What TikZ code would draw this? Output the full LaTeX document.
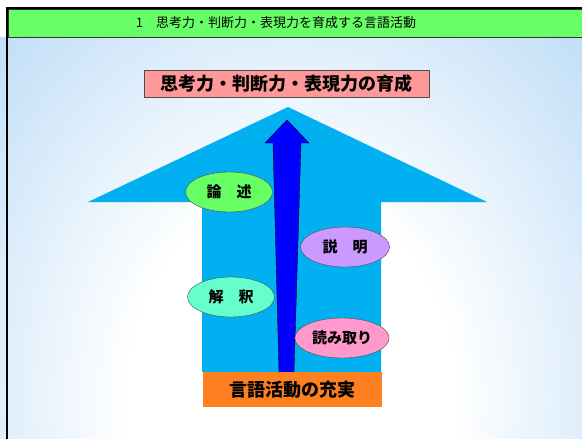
\documentclass[tikz,border=0pt]{standalone}
\usepackage{fontspec}
\newfontfamily\jp{Noto Sans CJK JP}
\usepackage{xcolor}
\usetikzlibrary{shapes,positioning}
\definecolor{hdrgreen}{RGB}{102,255,102}
\definecolor{bgblue}{RGB}{162,206,243}
\definecolor{bigcyan}{RGB}{0,176,240}
\definecolor{goalpink}{RGB}{255,153,153}
\definecolor{baseorange}{RGB}{255,128,32}
\definecolor{ronGreen}{RGB}{102,255,102}
\definecolor{setPurple}{RGB}{204,153,255}
\definecolor{kaiAqua}{RGB}{102,255,204}
\definecolor{yomiPink}{RGB}{255,153,204}
\pgfdeclareradialshading{bgshade}{\pgfpoint{0bp}{0bp}}{color(0bp)=(white); color(14bp)=(white); color(46bp)=(bgblue); color(100bp)=(bgblue)}

\begin{document}
\begin{tikzpicture}[x=1pt, y=-1pt,
    ellip/.style={ellipse, draw=black!70, minimum width=87pt, minimum height=40pt,
      font=\jp\bfseries\fontsize{15}{15}\selectfont},
    boxtext/.style={font=\jp\bfseries\fontsize{18}{18}\selectfont}]
    \useasboundingbox (0,0) rectangle (582,439);
    \clip (0,0) rectangle (582,439);

    % Background
    \fill[white] (0,0) rectangle (582,439);
    \shade[shading=bgshade] (0,37) rectangle (582,760);
    \draw[line width=2pt] (7,470) |- (600,8);

    % Header
    \draw[fill=hdrgreen, draw=black!80] (8,9) rectangle (600,37);
    \node (H) at (276,23) {\jp\fontsize{13}{13}\selectfont 1\quad 思考力・判断力・表現力を育成する言語活動};

    % Big arrow
    \fill[bigcyan] (288,107) -- (487,202) -- (381,202) -- (381,372)
      -- (202,372) -- (202,202) -- (88,202) -- cycle;

    % Blue arrow
    \draw[fill=blue, draw=black] (287,120) -- (309,143) -- (301,143) -- (294,372)
      -- (279,372) -- (273,143) -- (265,143) -- cycle;

    % Goal and base
    \node[boxtext, draw=black!70, fill=goalpink, minimum width=285pt, minimum height=27pt,
      inner sep=0pt] (G) at (286.5,83.5) {思考力・判断力・表現力の育成};
    \node[boxtext, fill=baseorange, minimum width=179pt, minimum height=35pt,
      inner sep=0pt] (B) at (292.5,389.5) {言語活動の充実};

    % Activities
    \node[ellip, fill=ronGreen] (Ron) at (229,192) {論　述};
    \node[ellip, fill=setPurple, minimum width=89pt] (Set) at (345,247) {説　明};
    \node[ellip, fill=kaiAqua] (Kai) at (231,297) {解　釈};
    \node[ellip, fill=yomiPink, minimum width=89pt] (Yomi) at (342,338) {読み取り};

\end{tikzpicture}
\end{document}
